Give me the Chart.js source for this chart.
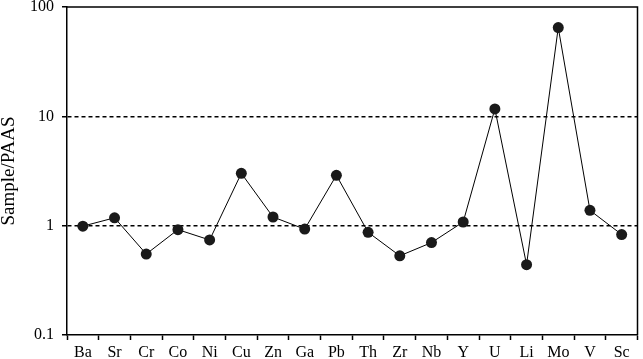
<!DOCTYPE html>
<html>
<head>
<meta charset="utf-8">
<script src="https://cdn.jsdelivr.net/npm/chart.js@4"></script>
<style>
  html, body { margin: 0; padding: 0; background: #fff; }
  #wrap { width: 643px; height: 359px; }
</style>
</head>
<body>
<div id="wrap"><canvas id="chart"></canvas></div>
<script>
const elements = ['Ba', 'Sr', 'Cr', 'Co', 'Ni', 'Cu', 'Zn', 'Ga', 'Pb', 'Th', 'Zr', 'Nb', 'Y', 'U', 'Li', 'Mo', 'V', 'Sc'];
const ratios = [0.99, 1.18, 0.55, 0.92, 0.74, 3.01, 1.20, 0.93, 2.89, 0.87, 0.53, 0.70, 1.08, 11.7, 0.44, 64.8, 1.38, 0.83];
const yTicks = [0.1, 1, 10, 100];

const serif = '"Liberation Serif", "Times New Roman", serif';

// top and right edges of the frame
const framePlugin = {
  id: 'frame',
  afterDraw(chart) {
    const {ctx, chartArea: a} = chart;
    ctx.save();
    ctx.strokeStyle = '#000';
    ctx.lineWidth = 1.5;
    ctx.beginPath();
    ctx.moveTo(a.left, a.top);
    ctx.lineTo(a.right, a.top);
    ctx.lineTo(a.right, a.bottom);
    ctx.stroke();
    ctx.restore();
  }
};

new Chart(document.getElementById('chart').getContext('2d'), {
  type: 'line',
  data: {
    labels: elements,
    datasets: [{
      data: ratios,
      borderColor: '#000',
      borderWidth: 1,
      backgroundColor: '#1a1a1a',
      pointRadius: 5.5,
      pointBorderWidth: 0,
      tension: 0
    }]
  },
  options: {
    responsive: true,
    maintainAspectRatio: false,
    animation: false,
    layout: {
      padding: {top: 7, right: 3, left: 0, bottom: 0}
    },
    scales: {
      x: {
        offset: true,
        grid: {
          offset: true,
          drawOnChartArea: false,
          tickLength: 5,
          tickColor: '#000',
          tickWidth: 1.5
        },
        border: {color: '#000', width: 1.5},
        ticks: {
          color: '#000',
          font: {family: serif, size: 16},
          padding: 3,
          autoSkip: false,
          maxRotation: 0
        },
        afterFit(scale) {
          scale.height = 24;
          scale.paddingLeft = 0;
          scale.paddingRight = 0;
        }
      },
      y: {
        type: 'logarithmic',
        min: 0.1,
        max: 100,
        afterBuildTicks(scale) {
          scale.ticks = yTicks.map(v => ({value: v}));
        },
        grid: {
          color: ctx => (ctx.tick && (ctx.tick.value === 1 || ctx.tick.value === 10)) ? '#000' : 'rgba(0,0,0,0)',
          lineWidth: 1.5,
          tickLength: 5,
          tickColor: '#000',
          tickWidth: 1.5,
          tickBorderDash: []
        },
        border: {color: '#000', width: 1.5, dash: [4, 3]},
        ticks: {
          color: '#000',
          font: {family: serif, size: 16},
          padding: 8,
          callback: v => String(v)
        },
        title: {
          display: true,
          text: 'Sample/PAAS',
          color: '#000',
          font: {family: serif, size: 19, lineHeight: 1},
          padding: {top: 0, bottom: 0, y: 0}
        },
        afterFit(scale) {
          scale.width = 67;
          scale.paddingTop = 0;
          scale.paddingBottom = 0;
        }
      }
    },
    plugins: {
      legend: {display: false},
      tooltip: {enabled: false}
    }
  },
  plugins: [framePlugin]
});
</script>
</body>
</html>
